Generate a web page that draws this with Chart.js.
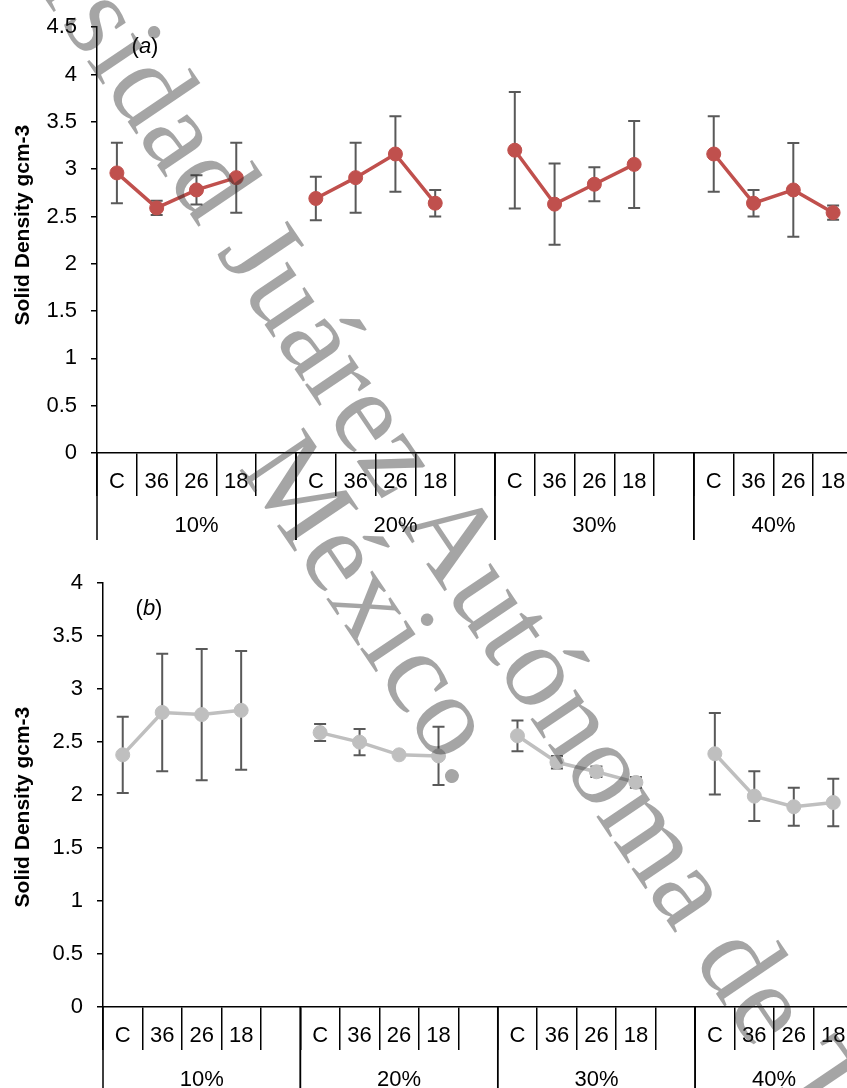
<!DOCTYPE html>
<html>
<head>
<meta charset="utf-8">
<script src="https://cdn.jsdelivr.net/npm/chart.js@4.4.1/dist/chart.umd.min.js"></script>
<style>
  html, body { margin: 0; padding: 0; background: #fff; overflow: hidden; width: 847px; height: 1088px; }
  .panel { position: absolute; left: 0; }
  #boxA { top: 0; }
  #boxB { top: 556px; }
  .wm {
    position: absolute; white-space: nowrap; pointer-events: none;
    font-family: "Liberation Serif", "Times New Roman", serif;
    font-size: 118px; line-height: 118px;
    color: rgba(40, 40, 40, 0.42);
    transform-origin: 0 0; transform: rotate(56deg);
  }
</style>
</head>
<body>
<div class="panel" id="boxA"><canvas id="graficoA" width="880" height="560"></canvas></div>
<div class="panel" id="boxB"><canvas id="graficoB" width="880" height="540"></canvas></div>
<div class="wm" style="left:-42px; top:-305px;">Universidad Juárez Autónoma de Tabasco</div>
<div class="wm" style="left:319px; top:413px;">México.</div>

<script>
// categorias (la ultima columna vacia de cada grupo separa las lineas)
const categorias = ['C', '36', '26', '18', '', 'C', '36', '26', '18', '', 'C', '36', '26', '18', '', 'C', '36', '26', '18'];
const grupos = ['10%', '20%', '30%', '40%'];
const columnasPorGrupo = 5;

// (a) densidad solida
const densidadA = [2.96, 2.59, 2.78, 2.91, null, 2.69, 2.91, 3.16, 2.64, null, 3.20, 2.63, 2.84, 3.05, null, 3.16, 2.64, 2.78, 2.54];
const desvA = [0.32, 0.075, 0.155, 0.37, null, 0.23, 0.37, 0.40, 0.14, null, 0.615, 0.43, 0.18, 0.46, null, 0.40, 0.14, 0.495, 0.075];

// (b) densidad solida
const densidadB = [2.38, 2.78, 2.76, 2.80, null, 2.59, 2.50, 2.38, 2.37, null, 2.56, 2.31, 2.22, 2.12, null, 2.39, 1.99, 1.89, 1.93];
const desvB = [0.36, 0.555, 0.62, 0.56, null, 0.08, 0.125, 0.02, 0.275, null, 0.145, 0.06, 0.05, 0.05, null, 0.385, 0.235, 0.18, 0.225];

const tituloY = 'Solid Density gcm-3';
const fuente = '"Liberation Sans", Arial, sans-serif';

// barras de error (desviacion)
const barrasError = {
    id: 'barrasError',
    beforeDatasetsDraw(chart, args, opts) {
        const ctx = chart.ctx;
        const y = chart.scales.y;
        const meta = chart.getDatasetMeta(0);
        ctx.save();
        ctx.strokeStyle = '#595959';
        ctx.lineWidth = 2;
        opts.medias.forEach((m, i) => {
            if (m === null) return;
            const x = meta.data[i].x;
            const y1 = y.getPixelForValue(m + opts.desv[i]);
            const y2 = y.getPixelForValue(m - opts.desv[i]);
            ctx.beginPath();
            ctx.moveTo(x, y1); ctx.lineTo(x, y2);
            ctx.moveTo(x - 6, y1); ctx.lineTo(x + 6, y1);
            ctx.moveTo(x - 6, y2); ctx.lineTo(x + 6, y2);
            ctx.stroke();
        });
        ctx.restore();
    }
};

// segundo nivel del eje x: lineas de grupo y porcentajes
const ejeGrupos = {
    id: 'ejeGrupos',
    afterDraw(chart) {
        const ctx = chart.ctx;
        const x = chart.scales.x;
        const base = x.top;
        const ancho = x.getPixelForValue(1) - x.getPixelForValue(0);
        ctx.save();
        ctx.strokeStyle = '#000';
        ctx.lineWidth = 1.5;
        ctx.fillStyle = '#000';
        ctx.font = '22px ' + fuente;
        ctx.textAlign = 'center';
        ctx.textBaseline = 'middle';
        grupos.forEach((g, k) => {
            const ini = k * columnasPorGrupo;
            const fin = Math.min(ini + columnasPorGrupo, categorias.length);
            const x1 = x.getPixelForValue(ini) - ancho / 2;
            const x2 = x.getPixelForValue(fin - 1) + ancho / 2;
            ctx.beginPath();
            ctx.moveTo(x1, base); ctx.lineTo(x1, base + 87);
            ctx.moveTo(x2, base); ctx.lineTo(x2, base + 87);
            ctx.stroke();
            ctx.fillText(g, (x1 + x2) / 2, base + 73);
        });
        ctx.restore();
    }
};

// rotulo (a) / (b) con letra en cursiva, y titulo del eje y
const rotulo = {
    id: 'rotulo',
    afterDraw(chart, args, opts) {
        const ctx = chart.ctx;
        const a = chart.chartArea;
        ctx.save();
        ctx.fillStyle = '#000';
        ctx.textBaseline = 'middle';
        ctx.textAlign = 'left';
        const normal = '22px ' + fuente;
        const cursiva = 'italic 22px ' + fuente;
        ctx.font = normal;
        const w1 = ctx.measureText('(').width;
        const w3 = ctx.measureText(')').width;
        ctx.font = cursiva;
        const w2 = ctx.measureText(opts.letra).width;
        let px = a.left + opts.dx - (w1 + w2 + w3) / 2;
        const py = a.top + opts.dy;
        ctx.font = normal; ctx.fillText('(', px, py); px += w1;
        ctx.font = cursiva; ctx.fillText(opts.letra, px, py); px += w2;
        ctx.font = normal; ctx.fillText(')', px, py);

        // titulo vertical
        ctx.translate(23, (a.top + a.bottom) / 2 + opts.dyTitulo);
        ctx.rotate(-Math.PI / 2);
        ctx.textAlign = 'center';
        ctx.font = 'bold 21px ' + fuente;
        ctx.fillText(tituloY, 0, 0);
        ctx.restore();
    }
};

function crearGrafica(id, medias, desv, color, maxY, anchoEje, altoEje, letra, dx, dy, dyTitulo) {
    const el = document.getElementById(id);
    if (!el) {
        console.error("No se encontro el elemento " + id);
        return;
    }
    return new Chart(el.getContext('2d'), {
        type: 'line',
        data: {
            labels: categorias,
            datasets: [{
                data: medias,
                borderColor: color,
                backgroundColor: color,
                borderWidth: 3.5,
                pointRadius: 7,
                pointBackgroundColor: color,
                pointBorderColor: color,
                pointBorderWidth: 1,
                tension: 0,
                spanGaps: false
            }]
        },
        options: {
            responsive: false,
            animation: false,
            layout: { padding: { top: 24, right: 27, bottom: 0, left: 0 } },
            plugins: {
                legend: { display: false },
                tooltip: { enabled: false },
                barrasError: { medias: medias, desv: desv },
                rotulo: { letra: letra, dx: dx, dy: dy, dyTitulo: dyTitulo }
            },
            scales: {
                x: {
                    offset: true,
                    grid: { offset: true, drawOnChartArea: false, tickLength: 43, color: '#000', lineWidth: 1.5 },
                    border: { color: '#000', width: 1.5 },
                    ticks: { autoSkip: false, maxRotation: 0, padding: -27, color: '#000', font: { family: fuente, size: 22 } },
                    afterFit: s => { s.height = altoEje; }
                },
                y: {
                    min: 0,
                    max: maxY,
                    ticks: {
                        stepSize: 0.5,
                        padding: 14,
                        color: '#000',
                        font: { family: fuente, size: 22 },
                        callback: v => String(+v)
                    },
                    grid: { drawOnChartArea: false, tickLength: 6, color: '#000', lineWidth: 1.5 },
                    border: { color: '#000', width: 1.5 },
                    afterFit: s => { s.width = anchoEje; }
                }
            }
        },
        plugins: [barrasError, ejeGrupos, rotulo]
    });
}

crearGrafica('graficoA', densidadA, desvA, '#C0504D', 4.5, 97, 107, 'a', 48, 20, -15);
crearGrafica('graficoB', densidadB, desvB, '#BFBFBF', 4, 103, 89, 'b', 46, 26, 12);
</script>
</body>
</html>
